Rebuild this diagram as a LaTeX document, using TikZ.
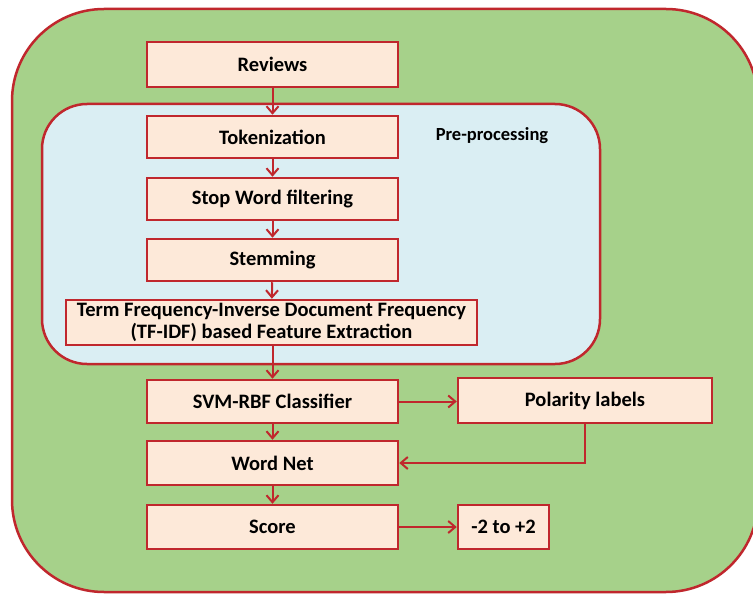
\documentclass[tikz,border=0pt]{standalone}
\usepackage{fontspec}
\setmainfont{Carlito}
\usetikzlibrary{arrows.meta}
\definecolor{outerg}{HTML}{A6D18A}
\definecolor{innerb}{HTML}{DAEEF3}
\definecolor{boxf}{HTML}{FDE9D9}
\definecolor{redl}{HTML}{C0272D}
\tikzset{
  pbox/.style={draw=redl, line width=2.5pt, fill=boxf, inner sep=0pt, font=\fontsize{20.5}{22}\selectfont\bfseries, align=center},
  conn/.style={draw=redl, line width=2pt, -{Straight Barb[length=7pt,width=12pt,line width=2pt]}}
}
\begin{document}
\begin{tikzpicture}[x=1pt,y=-1pt]
\useasboundingbox (0,0) rectangle (753,594);
\fill[white] (0,0) rectangle (753,594);
\draw[redl, line width=2.5pt, fill=outerg, rounded corners=92pt] (12,9) rectangle (758,592);
\draw[redl, line width=2.5pt, fill=innerb, rounded corners=45pt] (42,104) rectangle (600,364);
\node[font=\fontsize{18.5}{22}\selectfont\bfseries] (pre) at (492,136) {Pre-processing};
\node[pbox, minimum width=251pt, minimum height=45pt] (rev) at (272.5,64.5) {Reviews};
\node[pbox, minimum width=251pt, minimum height=42pt] (tok) at (272.5,137) {Tokenization};
\node[pbox, minimum width=251pt, minimum height=42pt] (stop) at (272.5,199) {Stop Word filtering};
\node[pbox, minimum width=251pt, minimum height=42pt] (stem) at (272.5,260) {Stemming};
\node[pbox, minimum width=411pt, minimum height=45pt] (tfidf) at (271.5,322.5) {Term Frequency-Inverse Document Frequency\\(TF-IDF) based Feature Extraction};
\node[pbox, minimum width=251pt, minimum height=43pt] (svm) at (272.5,401.5) {SVM-RBF Classifier};
\node[pbox, minimum width=254pt, minimum height=45pt] (pol) at (585,400.5) {Polarity labels};
\node[pbox, minimum width=251pt, minimum height=44pt] (wn) at (272.5,463) {Word Net};
\node[pbox, minimum width=251pt, minimum height=44pt] (score) at (272.5,527) {Score};
\node[pbox, minimum width=91pt, minimum height=44pt] (rng) at (503.5,527) {-2 to +2};
\draw[conn] (rev) -- (tok);
\draw[conn] (tok) -- (stop);
\draw[conn] (stop) -- (stem);
\draw[conn] (stem) -- (tfidf);
\draw[conn] (tfidf.south -| svm.north) -- (svm);
\draw[conn] (svm) -- (svm -| pol.west);
\draw[conn] (pol.south) |- (wn.east);
\draw[conn] (svm) -- (wn);
\draw[conn] (wn) -- (score);
\draw[conn] (score) -- (rng);
\end{tikzpicture}
\end{document}
